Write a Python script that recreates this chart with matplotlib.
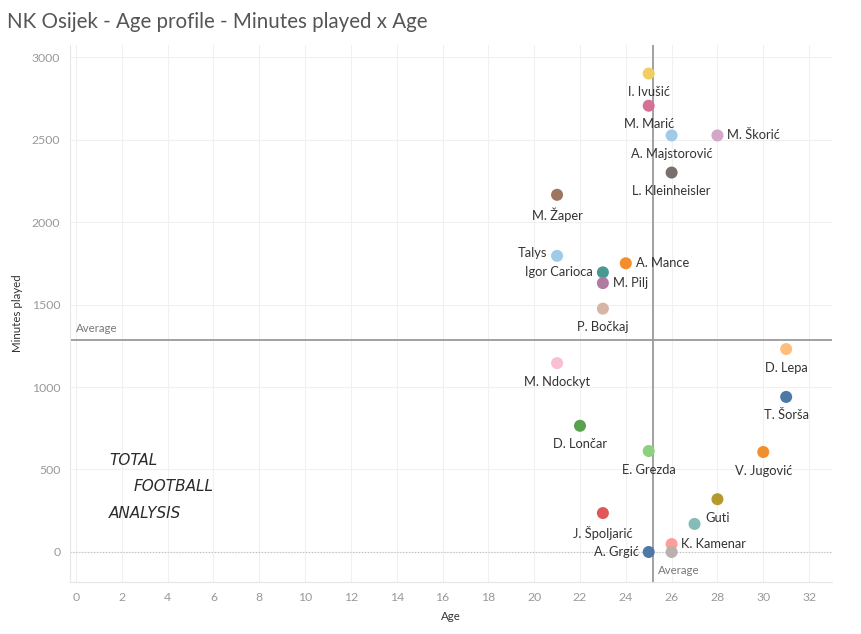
import matplotlib.pyplot as plt

players = ['I. Ivušić', 'M. Marić', 'A. Majstorović', 'M. Škorić', 'L. Kleinheisler',
           'M. Žaper', 'Talys', 'A. Mance', 'Igor Carioca', 'M. Pilj', 'P. Bočkaj',
           'M. Ndockyt', 'D. Lepa', 'T. Šorša', 'D. Lončar', 'E. Grezda', 'V. Jugović',
           'Guti', 'J. Špoljarić', '', 'K. Kamenar', 'A. Grgić', '']
ages = [25, 25, 26, 28, 26, 21, 21, 24, 23, 23, 23, 21, 31, 31, 22, 25, 30, 28, 23, 27, 26, 25, 26]
minutes = [2900, 2705, 2525, 2525, 2300, 2165, 1795, 1750, 1695, 1630, 1475,
           1145, 1230, 940, 765, 612, 606, 320, 236, 170, 48, 0, 0]
colors = ['#F1CE63', '#D37295', '#A0CBE8', '#D4A6C8', '#79706E', '#9D7660', '#A0CBE8',
          '#F28E2B', '#499894', '#B07AA1', '#D7B5A6', '#FABFD2', '#FFBE7D', '#4E79A7',
          '#59A14F', '#8CD17D', '#F28E2B', '#B6992D', '#E15759', '#86BCB6', '#FF9D9A',
          '#4E79A7', '#BAB0AC']
# where the label sits: b = below, r = right, l = left
label_pos = ['b', 'b', 'b', 'r', 'b', 'b', 'l', 'r', 'l', 'r', 'b', 'b', 'b', 'b', 'b',
             'b', 'b', 'b', 'b', 'b', 'r', 'l', 'b']

avg_age = 25.2
avg_minutes = 1285

plt.rcParams['font.family'] = ['Lato', 'DejaVu Sans']

fig = plt.figure(figsize=(8.61, 6.34), dpi=100)
ax = fig.add_axes([0.0813, 0.082, 0.885, 0.847])

ax.set_xlim(-0.26, 33.0)
ax.set_ylim(-182, 3073)
ax.set_xticks(range(0, 33, 2))
ax.set_yticks(range(0, 3001, 500))
ax.grid(True, color='#f0f0f0', linewidth=0.8)
ax.set_axisbelow(True)
for s in ['top', 'right']:
    ax.spines[s].set_visible(False)
for s in ['left', 'bottom']:
    ax.spines[s].set_color('#e6e6e6')
ax.tick_params(length=0, labelsize=8.8, labelcolor='#999999', pad=7)

ax.axhline(0, color='#bdbdbd', linestyle=':', linewidth=0.8, zorder=1)
ax.axhline(avg_minutes, color='#9a9a9a', linewidth=1.3, zorder=1)
ax.axvline(avg_age, color='#9a9a9a', linewidth=1.3, zorder=1)
ax.text(0.0, avg_minutes + 35, 'Average', fontsize=8.3, color='#777777', va='bottom', ha='left')
ax.text(avg_age + 0.2, -110, 'Average', fontsize=8.3, color='#777777', va='center', ha='left')

ax.scatter(ages, minutes, s=75, c=colors, zorder=3, edgecolors='none')

offsets = {'b': ((0, -9), 'center', 'top'),
           'r': ((7, 0), 'left', 'center'),
           'l': ((-7, 0), 'right', 'center')}
for name, a, m, p in zip(players, ages, minutes, label_pos):
    if not name:
        continue
    off, ha, va = offsets[p]
    if name == 'Talys':
        off = (-7, 2)
    ax.annotate(name, (a, m), xytext=off, textcoords='offset points',
                ha=ha, va=va, fontsize=9.3, color='#333333', zorder=4)

ax.set_xlabel('Age', fontsize=8.3, color='#333333', labelpad=6)
ax.set_ylabel('Minutes played', fontsize=8.3, color='#333333', labelpad=6)

# logo
logo = dict(fontsize=11, color='#2b2b2b', fontstyle='italic',
            fontfamily='DejaVu Sans Condensed', va='top')
ax.text(1.45, 600, 'TOTAL', **logo)
ax.text(2.5, 440, 'FOOTBALL', **logo)
ax.text(1.45, 280, 'ANALYSIS', **logo)

fig.text(0.008, 0.965, 'NK Osijek - Age profile - Minutes played x Age', fontsize=14.8,
         color='#555555', va='center', ha='left')

fig.savefig('out.png', dpi=100, facecolor='white')
